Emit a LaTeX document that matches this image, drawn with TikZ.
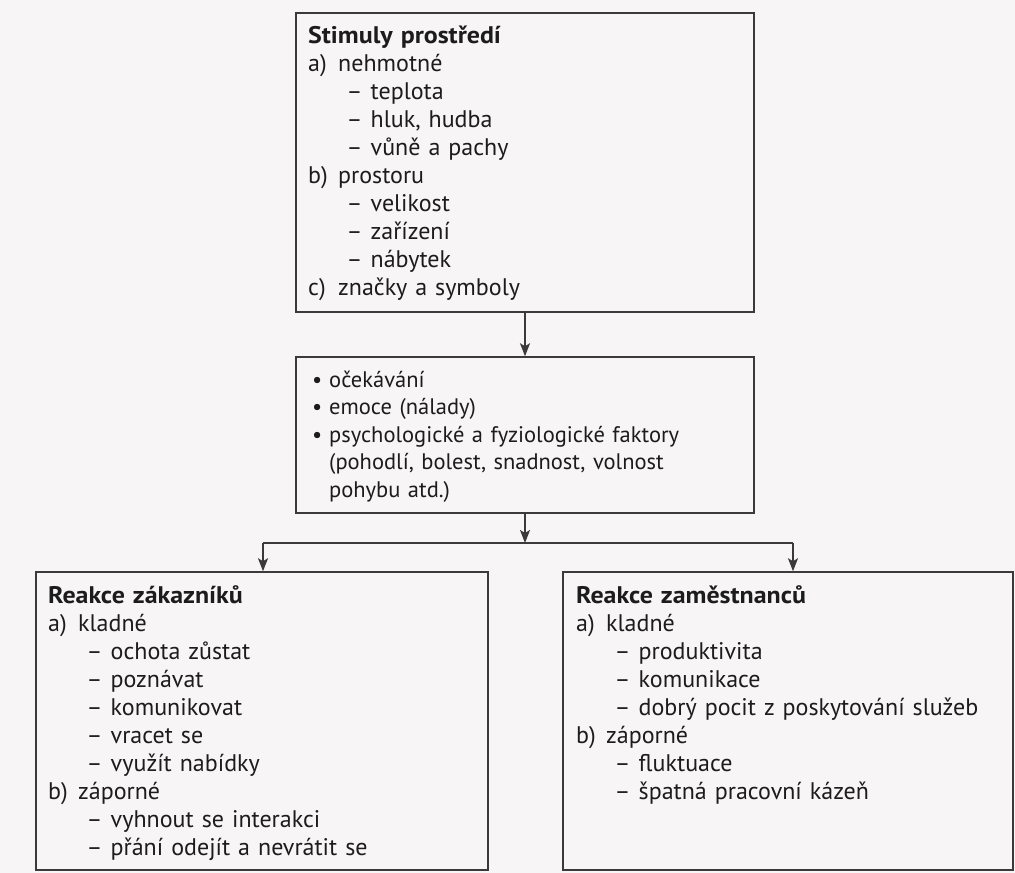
\documentclass[tikz,border=0pt]{standalone}
\usepackage{fontspec}
\setmainfont{PT Sans}[BoldFeatures={FakeStretch=1.08}]
\usetikzlibrary{arrows.meta}
\definecolor{bg}{HTML}{F7F5F5}
\definecolor{ink}{HTML}{1C1C1C}
\definecolor{rule}{HTML}{3A3A3A}
\newcommand\lab[2]{\makebox[30pt][l]{#1}#2}
\newcommand\dsh[1]{\hspace*{38.5pt}\makebox[24pt][l]{–}#1}
\newcommand\bul[1]{\makebox[17pt][l]{•}#1}
\begin{document}
\begin{tikzpicture}[x=1pt,y=-1pt,
  box/.style={draw=rule, line width=1.5pt, inner sep=0pt},
  txt/.style={anchor=base west, inner sep=0pt, text width=440pt, align=left,
    font=\fontsize{24}{28}\selectfont, text=ink},
  link/.style={draw=rule, line width=1.5pt},
  arr/.style={link, -{Stealth[length=13pt,width=10pt,inset=3pt]}}
]
\fill[bg] (0,0) rectangle (1015,873);
\useasboundingbox (0,0) rectangle (1015,873);

\node[box, minimum width=458pt, minimum height=299pt] (top) at (525,162.5) {};
\node[box, minimum width=458pt, minimum height=156pt] (mid) at (525,435) {};
\node[box, minimum width=452pt, minimum height=298pt] (bl) at (262,721) {};
\node[box, minimum width=450pt, minimum height=298pt] (br) at (788,721) {};

\node[txt] (ttop) at (308,43) {\textbf{Stimuly prostředí}\\
\lab{a)}{nehmotné}\\
\dsh{teplota}\\
\dsh{hluk, hudba}\\
\dsh{vůně a pachy}\\
\lab{b)}{prostoru}\\
\dsh{velikost}\\
\dsh{zařízení}\\
\dsh{nábytek}\\
\lab{c)}{značky a symboly}};

\node[txt, font=\fontsize{22.5}{27.5}\selectfont] (tmid) at (312,387) {\bul{očekávání}\\
\bul{emoce (nálady)}\\
\bul{psychologické a fyziologické faktory}\\
\hspace*{17pt}(pohodlí, bolest, snadnost, volnost\\
\hspace*{17pt}pohybu atd.)};

\node[txt] (tbl) at (48,603) {\textbf{Reakce zákazníků}\\
\lab{a)}{kladné}\\
\dsh{ochota zůstat}\\
\dsh{poznávat}\\
\dsh{komunikovat}\\
\dsh{vracet se}\\
\dsh{využít nabídky}\\
\lab{b)}{záporné}\\
\dsh{vyhnout se interakci}\\
\dsh{přání odejít a nevrátit se}};

\node[txt] (tbr) at (576,603) {\textbf{Reakce zaměstnanců}\\
\lab{a)}{kladné}\\
\dsh{produktivita}\\
\dsh{komunikace}\\
\dsh{dobrý pocit z poskytování služeb}\\
\lab{b)}{záporné}\\
\dsh{fluktuace}\\
\dsh{špatná pracovní kázeň}};

\coordinate (j) at (525,543);
\coordinate (jl) at (263,543);
\coordinate (jr) at (793,543);
\draw[arr] (top.south) -- (mid.north);
\draw[arr] (mid.south) -- (j);
\draw[link] (jl) -- (jr);
\draw[arr] (jl) -- (jl |- bl.north);
\draw[arr] (jr) -- (jr |- br.north);
\end{tikzpicture}
\end{document}
